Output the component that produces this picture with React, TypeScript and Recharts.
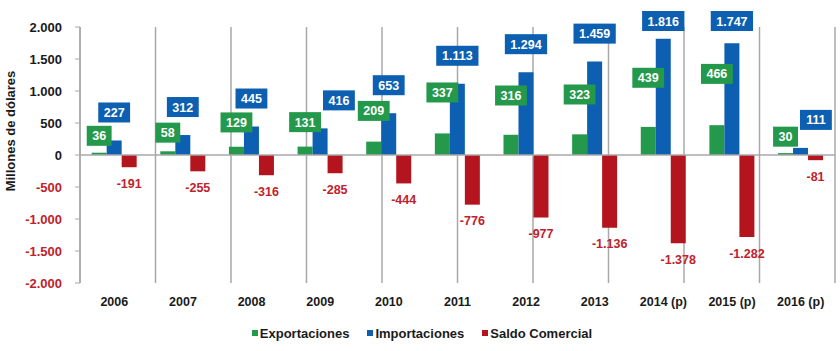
import { BarChart, Bar, XAxis, YAxis, CartesianGrid, ReferenceLine, Legend, LabelList, Label } from 'recharts'

const YEARS = ['2006', '2007', '2008', '2009', '2010', '2011', '2012', '2013', '2014 (p)', '2015 (p)', '2016 (p)']
const EXPORTACIONES = [36, 58, 129, 131, 209, 337, 316, 323, 439, 466, 30]
const IMPORTACIONES = [227, 312, 445, 416, 653, 1113, 1294, 1459, 1816, 1747, 111]
const SALDO = [-191, -255, -316, -285, -444, -776, -977, -1136, -1378, -1282, -81]
const Y_TICKS = [2000, 1500, 1000, 500, 0, -500, -1000, -1500, -2000]
const GRID_TICKS = [0, 1, 2, 3, 4, 5, 6, 7, 8, 9, 10, 11]

const FONT = '"Liberation Sans", Arial, sans-serif'
const GREEN = '#24984b'
const BLUE = '#0c5fb1'
const RED = '#b3141d'
const RED_TEXT = '#c0222b'
const GRID = '#a8a8a8'
const INK = '#1a1a1a'
const LABEL_SIZE = 12.5

const data = YEARS.map((year, i) => ({
  year,
  exportaciones: EXPORTACIONES[i],
  importaciones: IMPORTACIONES[i],
  saldo: SALDO[i],
}))

// 2.000 / -1.136 style
const fmt = (v: number) => {
  const s = Math.abs(v).toString().replace(/\B(?=(\d{3})+(?!\d))/g, '.')
  return (v < 0 ? '-' : '') + s
}

const textW = (s: string, size: number) =>
  s.split('').reduce((w, c) => w + (c === '.' ? 0.278 : c === '-' ? 0.333 : 0.556) * size, 0)

const boxW = (s: string) => textW(s, LABEL_SIZE) + 11

function ValueBox({ cx, cy, text, fill }: { cx: number; cy: number; text: string; fill: string }) {
  const w = boxW(text)
  return (
    <g>
      <rect x={cx - w / 2} y={cy - 10} width={w} height={20} fill={fill} />
      <text x={cx} y={cy} dy={4.5} textAnchor="middle" fill="#fff" fontSize={LABEL_SIZE} fontWeight="bold" fontFamily={FONT}>
        {text}
      </text>
    </g>
  )
}

const greenLabelPos = (x: number, width: number, top: number, h: number) => ({
  cx: x + width / 2,
  cy: top - (14 + h * 1.25),
})

const GreenLabel = (p: any) => {
  const { x, y, width, height, value } = p
  const top = Math.min(y, y + height)
  const h = Math.abs(height)
  const { cx, cy } = greenLabelPos(x, width, top, h)
  return <ValueBox cx={cx} cy={cy} text={fmt(value)} fill={GREEN} />
}

const BlueLabel = (p: any) => {
  const { x, y, width, height, value } = p
  const index = typeof p.index === 'number' ? p.index : IMPORTACIONES.indexOf(value)
  const top = Math.min(y, y + height)
  const h = Math.abs(height)
  const zero = top + h
  const ppu = h / value
  const g = EXPORTACIONES[index]
  const gh = g * ppu
  const gp = greenLabelPos(x - width, width, zero - gh, gh)
  const gw = boxW(fmt(g))
  const bw = boxW(fmt(value))
  let cx = x + width / 2
  // don't let tall bars push the box off the top
  const cy = Math.max(top - 28, 21)
  // keep clear of the green box when both sit low
  if (Math.abs(cy - gp.cy) < 22 && cx - bw / 2 < gp.cx + gw / 2 + 2) cx = gp.cx + gw / 2 + 2 + bw / 2
  return <ValueBox cx={cx} cy={cy} text={fmt(value)} fill={BLUE} />
}

const RedLabel = (p: any) => {
  const { x, y, width, height, value } = p
  const bottom = Math.max(y, y + height)
  return (
    <text x={x + width / 2} y={bottom + 16} dy={4.5} textAnchor="middle" fill={RED_TEXT} fontSize={LABEL_SIZE} fontWeight="bold" fontFamily={FONT}>
      {fmt(value)}
    </text>
  )
}

const YTick = ({ x, y, payload }: any) => (
  <text x={x} y={y} dy={4.5} textAnchor="end" fill={payload.value < 0 ? RED_TEXT : INK} fontSize={13} fontWeight="bold" fontFamily={FONT}>
    {fmt(payload.value)}
  </text>
)

const XTick = ({ x, y, payload }: any) => (
  <text x={x} y={y} dy={10} textAnchor="middle" fill={INK} fontSize={12.5} fontWeight="bold" fontFamily={FONT}>
    {payload.value}
  </text>
)

const SERIES = [
  { name: 'Exportaciones', color: GREEN },
  { name: 'Importaciones', color: BLUE },
  { name: 'Saldo Comercial', color: RED },
]

const renderLegend = () => (
  <div
    style={{
      display: 'flex',
      justifyContent: 'center',
      alignItems: 'center',
      gap: 18,
      height: 20,
      paddingLeft: 9,
      fontFamily: FONT,
      fontWeight: 'bold',
      fontSize: 13,
      color: INK,
    }}
  >
    {SERIES.map((s) => (
      <span key={s.name} style={{ display: 'flex', alignItems: 'center' }}>
        <span style={{ width: 6, height: 6, background: s.color, marginRight: 2 }} />
        {s.name}
      </span>
    ))}
  </div>
)

export default function App() {
  return (
    <div style={{ position: 'absolute', left: 0, top: 0, width: 840, height: 351, background: '#fff' }}>
      <BarChart
        width={840}
        height={351}
        data={data}
        margin={{ top: 27, right: 5, left: 0, bottom: 8 }}
        barCategoryGap="17%"
        barGap={0}
      >
        <XAxis xAxisId="grid" type="number" domain={[0, 11]} ticks={GRID_TICKS} allowDataOverflow hide />
        <CartesianGrid xAxisId="grid" horizontal={false} stroke={GRID} strokeWidth={1.5} />
        <XAxis dataKey="year" height={40} axisLine={false} tickLine={false} tickSize={0} tickMargin={13} tick={<XTick />} interval={0} />
        <YAxis
          width={80}
          domain={[-2000, 2000]}
          ticks={Y_TICKS}
          interval={0}
          axisLine={{ stroke: GRID, strokeWidth: 1.5 }}
          tickLine={{ stroke: GRID }}
          tickSize={5}
          tickMargin={13}
          tick={<YTick />}
        >
          <Label
            content={() => (
              <text transform="translate(15,131) rotate(-90)" textAnchor="middle" fill={INK} fontSize={13} fontWeight="bold" fontFamily={FONT}>
                Millones de dólares
              </text>
            )}
          />
        </YAxis>
        <ReferenceLine y={0} stroke={GRID} strokeWidth={1.5} />
        <Legend verticalAlign="bottom" height={20} content={renderLegend} />
        <Bar dataKey="exportaciones" name="Exportaciones" fill={GREEN} isAnimationActive={false}>
          <LabelList dataKey="exportaciones" content={GreenLabel} />
        </Bar>
        <Bar dataKey="importaciones" name="Importaciones" fill={BLUE} isAnimationActive={false}>
          <LabelList dataKey="importaciones" content={BlueLabel} />
        </Bar>
        <Bar dataKey="saldo" name="Saldo Comercial" fill={RED} isAnimationActive={false}>
          <LabelList dataKey="saldo" content={RedLabel} />
        </Bar>
      </BarChart>
    </div>
  )
}
